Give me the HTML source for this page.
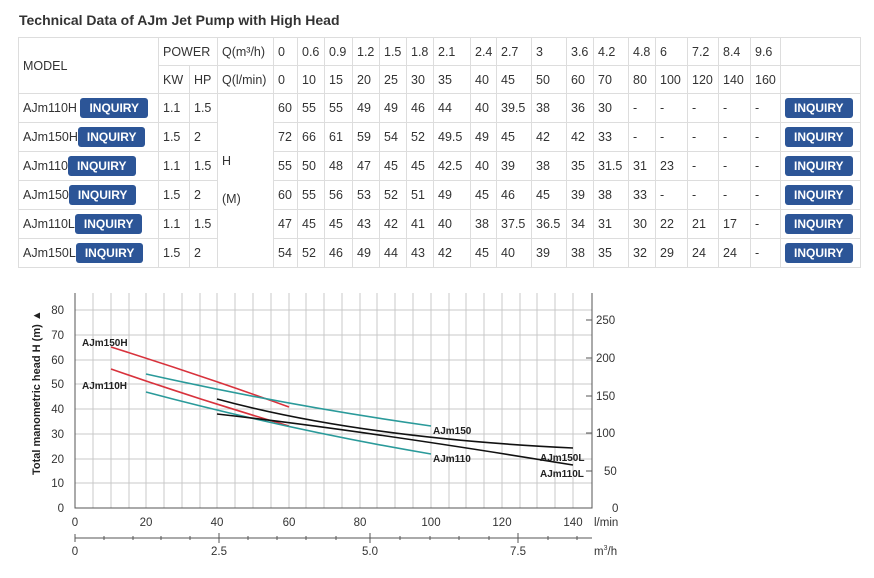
<!DOCTYPE html>
<html><head><meta charset="utf-8"><style>
body{margin:0;width:874px;height:578px;background:#fff;font-family:"Liberation Sans",sans-serif;color:#333;position:relative;overflow:hidden}
h1{position:absolute;left:19px;top:12px;margin:0;font-size:14px;font-weight:bold;color:#333}
table{position:absolute;left:18px;top:37px;border-collapse:collapse;table-layout:fixed;font-size:12.5px}
td{border:1px solid #ddd;padding:0 0 0 4px;white-space:nowrap;overflow:visible;vertical-align:middle;line-height:20px}
tr.h td{height:27px}
tr.d td{height:28px}
.b{display:inline-block;background:#2c5597;color:#fff;font-weight:bold;font-size:12px;border-radius:3px;height:20px;line-height:20px;padding:0 9px;vertical-align:top}
</style></head><body>
<h1>Technical Data of AJm Jet Pump with High Head</h1>
<table>
<colgroup><col style="width:140px"><col style="width:31px"><col style="width:28px"><col style="width:56px"><col style="width:24px"><col style="width:27px"><col style="width:28px"><col style="width:27px"><col style="width:27px"><col style="width:27px"><col style="width:37px"><col style="width:26px"><col style="width:35px"><col style="width:35px"><col style="width:27px"><col style="width:35px"><col style="width:27px"><col style="width:32px"><col style="width:31px"><col style="width:32px"><col style="width:30px"><col style="width:80px"></colgroup>
<tr class="h"><td rowspan="2">MODEL</td><td colspan="2">POWER</td><td>Q(m³/h)</td><td>0</td><td>0.6</td><td>0.9</td><td>1.2</td><td>1.5</td><td>1.8</td><td>2.1</td><td>2.4</td><td>2.7</td><td>3</td><td>3.6</td><td>4.2</td><td>4.8</td><td>6</td><td>7.2</td><td>8.4</td><td>9.6</td><td></td></tr>
<tr class="h"><td>KW</td><td>HP</td><td>Q(l/min)</td><td>0</td><td>10</td><td>15</td><td>20</td><td>25</td><td>30</td><td>35</td><td>40</td><td>45</td><td>50</td><td>60</td><td>70</td><td>80</td><td>100</td><td>120</td><td>140</td><td>160</td><td></td></tr>
<tr class="d"><td>AJm110H <span class="b">INQUIRY</span></td><td>1.1</td><td>1.5</td><td rowspan="6" style="vertical-align:middle;line-height:19px">H<br><br>(M)<br></td><td>60</td><td>55</td><td>55</td><td>49</td><td>49</td><td>46</td><td>44</td><td>40</td><td>39.5</td><td>38</td><td>36</td><td>30</td><td>-</td><td>-</td><td>-</td><td>-</td><td>-</td><td><span class="b">INQUIRY</span></td></tr>
<tr class="d"><td>AJm150H<span class="b">INQUIRY</span></td><td>1.5</td><td>2</td><td>72</td><td>66</td><td>61</td><td>59</td><td>54</td><td>52</td><td>49.5</td><td>49</td><td>45</td><td>42</td><td>42</td><td>33</td><td>-</td><td>-</td><td>-</td><td>-</td><td>-</td><td><span class="b">INQUIRY</span></td></tr>
<tr class="d"><td>AJm110<span class="b">INQUIRY</span></td><td>1.1</td><td>1.5</td><td>55</td><td>50</td><td>48</td><td>47</td><td>45</td><td>45</td><td>42.5</td><td>40</td><td>39</td><td>38</td><td>35</td><td>31.5</td><td>31</td><td>23</td><td>-</td><td>-</td><td>-</td><td><span class="b">INQUIRY</span></td></tr>
<tr class="d"><td>AJm150<span class="b">INQUIRY</span></td><td>1.5</td><td>2</td><td>60</td><td>55</td><td>56</td><td>53</td><td>52</td><td>51</td><td>49</td><td>45</td><td>46</td><td>45</td><td>39</td><td>38</td><td>33</td><td>-</td><td>-</td><td>-</td><td>-</td><td><span class="b">INQUIRY</span></td></tr>
<tr class="d"><td>AJm110L<span class="b">INQUIRY</span></td><td>1.1</td><td>1.5</td><td>47</td><td>45</td><td>45</td><td>43</td><td>42</td><td>41</td><td>40</td><td>38</td><td>37.5</td><td>36.5</td><td>34</td><td>31</td><td>30</td><td>22</td><td>21</td><td>17</td><td>-</td><td><span class="b">INQUIRY</span></td></tr>
<tr class="d"><td>AJm150L<span class="b">INQUIRY</span></td><td>1.5</td><td>2</td><td>54</td><td>52</td><td>46</td><td>49</td><td>44</td><td>43</td><td>42</td><td>45</td><td>40</td><td>39</td><td>38</td><td>35</td><td>32</td><td>29</td><td>24</td><td>24</td><td>-</td><td><span class="b">INQUIRY</span></td></tr>
</table>
<svg width="874" height="578" style="position:absolute;left:0;top:0" font-family="Liberation Sans, sans-serif">
<g stroke="#c8c8c8" stroke-width="1">
<path d="M93 293V508M111 293V508M129 293V508M146 293V508M164 293V508M182 293V508M200 293V508M217 293V508M235 293V508M253 293V508M271 293V508M289 293V508M306 293V508M324 293V508M342 293V508M360 293V508M377 293V508M395 293V508M413 293V508M431 293V508M449 293V508M466 293V508M484 293V508M502 293V508M520 293V508M537 293V508M555 293V508M573 293V508"/>
<path d="M75 310H592M75 335H592M75 360H592M75 384H592M75 409H592M75 434H592M75 459H592M75 483H592"/>
</g>
<g stroke="#555" stroke-width="1" fill="none">
<path d="M75 293V508H592V293"/>
<path d="M586 320H592M586 358H592M586 396H592M586 433H592M586 471H592"/>
<path d="M75 538H592M75 534V542M219 533V543M370 533V543M518 533V543"/>
<path d="M104 536V540M133 536V540M161 536V540M190 536V540M248 536V540M277 536V540M306 536V540M336 536V540M400 536V540M430 536V540M459 536V540M489 536V540M548 536V540M577 536V540"/>
</g>
<g font-size="11.5" fill="#333" text-anchor="end">
<text x="64" y="314">80</text><text x="64" y="339">70</text><text x="64" y="364">60</text><text x="64" y="388">50</text><text x="64" y="413">40</text><text x="64" y="438">30</text><text x="64" y="463">20</text><text x="64" y="487">10</text><text x="64" y="512">0</text>
</g>
<g font-size="11.5" fill="#333">
<text x="596" y="324">250</text><text x="596" y="362">200</text><text x="596" y="400">150</text><text x="596" y="437">100</text><text x="604" y="475">50</text><text x="612" y="512">0</text>
</g>
<g font-size="11.5" fill="#333" text-anchor="middle">
<text x="75" y="526">0</text><text x="146" y="526">20</text><text x="217" y="526">40</text><text x="289" y="526">60</text><text x="360" y="526">80</text><text x="431" y="526">100</text><text x="502" y="526">120</text><text x="573" y="526">140</text>
<text x="75" y="555">0</text><text x="219" y="555">2.5</text><text x="370" y="555">5.0</text><text x="518" y="555">7.5</text>
</g>
<text x="594" y="526" font-size="11.5" fill="#333">l/min</text>
<text x="594" y="555" font-size="11.5" fill="#333">m<tspan font-size="7" dy="-5">3</tspan><tspan dy="5">/h</tspan></text>
<text transform="translate(40,475) rotate(-90)" font-size="11" font-weight="bold" fill="#222">Total manometric head H (m) ▲</text>
<g fill="none" stroke-width="1.6">
<path d="M111 347Q200 375 289 407" stroke="#d8323c"/>
<path d="M111 369Q200 400 289 426" stroke="#d8323c"/>
<path d="M146 374Q289 406 431 426" stroke="#2a9a9a"/>
<path d="M146 392Q289 430 431 454" stroke="#2a9a9a"/>
<path d="M217 399Q360 438 573 448" stroke="#111"/>
<path d="M217 414Q360 430 573 465" stroke="#111"/>
</g>
<g font-size="10" font-weight="bold" fill="#222">
<text x="82" y="346">AJm150H</text><text x="82" y="389">AJm110H</text>
<text x="433" y="434">AJm150</text><text x="433" y="462">AJm110</text>
<text x="540" y="461">AJm150L</text><text x="540" y="477">AJm110L</text>
</g>
</svg>
</body></html>
